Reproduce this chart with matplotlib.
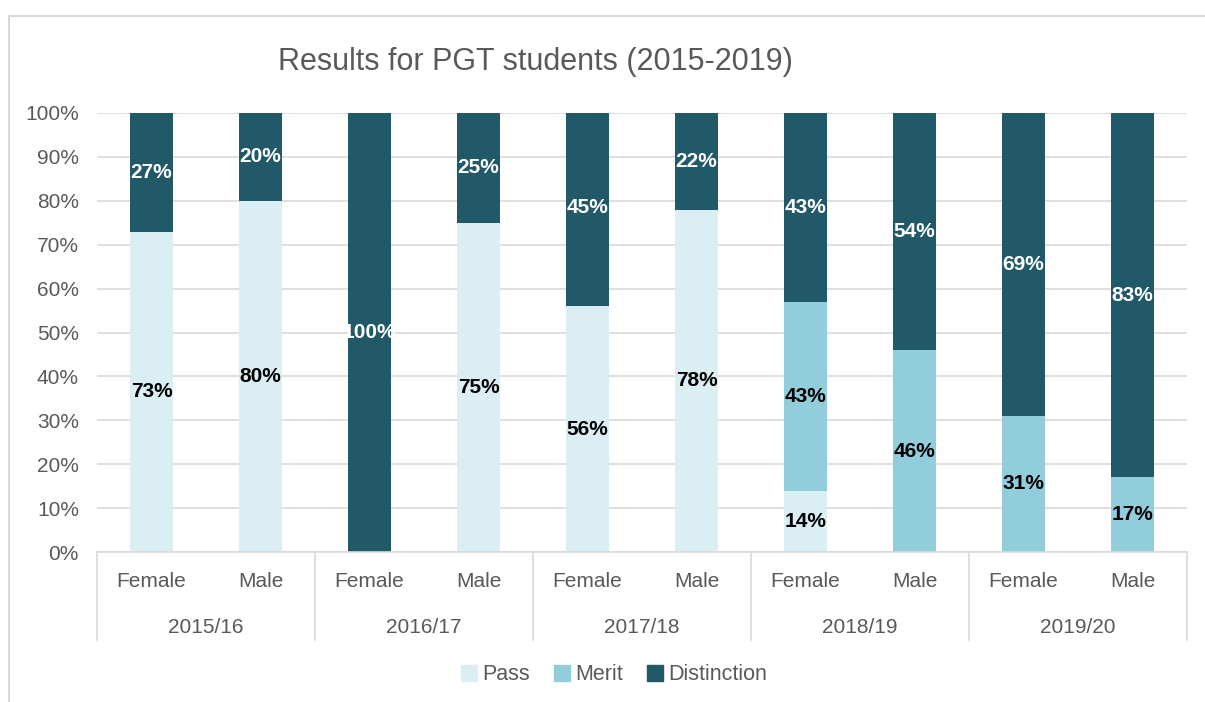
import numpy as np
import matplotlib.pyplot as plt
from matplotlib import font_manager
from matplotlib.transforms import blended_transform_factory
from matplotlib.lines import Line2D
from matplotlib.patches import Patch

names = [f.name for f in font_manager.fontManager.ttflist]
narrow = 'Liberation Sans Narrow' if 'Liberation Sans Narrow' in names else 'Liberation Sans'
plt.rcParams['font.family'] = [narrow, 'DejaVu Sans']

years = ['2015/16', '2016/17', '2017/18', '2018/19', '2019/20']
genders = ['Female', 'Male']
series = ['Pass', 'Merit', 'Distinction']
# one value per bar: F, M for each year
pass_vals = [73, 80, 0, 75, 56, 78, 14, 0, 0, 0]
merit_vals = [0, 0, 0, 0, 0, 0, 43, 46, 31, 17]
dist_vals = [27, 20, 100, 25, 45, 22, 43, 54, 69, 83]
colors = ['#daeef3', '#92cddc', '#215968']
text_colors = ['black', 'black', 'white']

W, H = 1205, 702
fig = plt.figure(figsize=(W / 100, H / 100), dpi=100)
x0, x1, y0, y1 = 97, 1187, 552, 113
ax = fig.add_axes([x0 / W, 1 - y0 / H, (x1 - x0) / W, (y0 - y1) / H])

# outer chart frame
fig.add_artist(Line2D([9 / W, 1], [1 - 16 / H, 1 - 16 / H], color='#d9d9d9', lw=1.5))
fig.add_artist(Line2D([9 / W, 9 / W], [0, 1 - 16 / H], color='#d9d9d9', lw=1.5))

x = np.arange(len(pass_vals))
bottom = np.zeros(len(x))
for vals, c, tc in zip([pass_vals, merit_vals, dist_vals], colors, text_colors):
    vals = np.array(vals)
    ax.bar(x, vals, 0.4, bottom=bottom, color=c, zorder=2)
    for xi, b, v in zip(x, bottom, vals):
        if v > 0:
            ax.text(xi, b + v / 2, f'{v}%', ha='center', va='center',
                    fontsize=15, fontweight='bold', color=tc, zorder=3)
    bottom += vals

ax.set_xlim(-0.5, len(x) - 0.5)
ax.set_ylim(0, 100)
ax.set_yticks(range(0, 101, 10))
ax.set_yticklabels([f'{v}%' for v in range(0, 101, 10)])
ax.tick_params(axis='y', length=0, labelsize=15, labelcolor='#595959', pad=13)
ax.set_xticks([])
ax.grid(axis='y', color='#d9d9d9', lw=1.2, zorder=0)
for s in ['top', 'right', 'left']:
    ax.spines[s].set_visible(False)
ax.spines['bottom'].set_color('#d9d9d9')
ax.spines['bottom'].set_linewidth(1.2)

# two-level category axis
tr = blended_transform_factory(ax.transData, ax.transAxes)
for i, xi in enumerate(x):
    ax.text(xi, -0.068, genders[i % 2], transform=tr, ha='center', va='center',
            fontsize=15, color='#595959')
for j, yr in enumerate(years):
    ax.text(2 * j + 0.5, -0.171, yr, transform=tr, ha='center', va='center',
            fontsize=15, color='#595959')
for k in range(len(years) + 1):
    ax.add_line(Line2D([2 * k - 0.5, 2 * k - 0.5], [0, -0.2], transform=tr,
                       color='#d9d9d9', lw=1.2, clip_on=False))

fig.text(535 / W, 1 - 62 / H, 'Results for PGT students (2015-2019)', ha='center',
         va='center', fontsize=22, color='#595959')

handles = [Patch(color=c, label=s) for c, s in zip(colors, series)]
fig.legend(handles=handles, loc='center', bbox_to_anchor=(614 / W, 1 - 675 / H), ncol=3,
           frameon=False, fontsize=15.5, labelcolor='#595959', handlelength=0.75,
           handleheight=0.75, handletextpad=0.25, columnspacing=1.1)

fig.savefig('out.png', dpi=100)
